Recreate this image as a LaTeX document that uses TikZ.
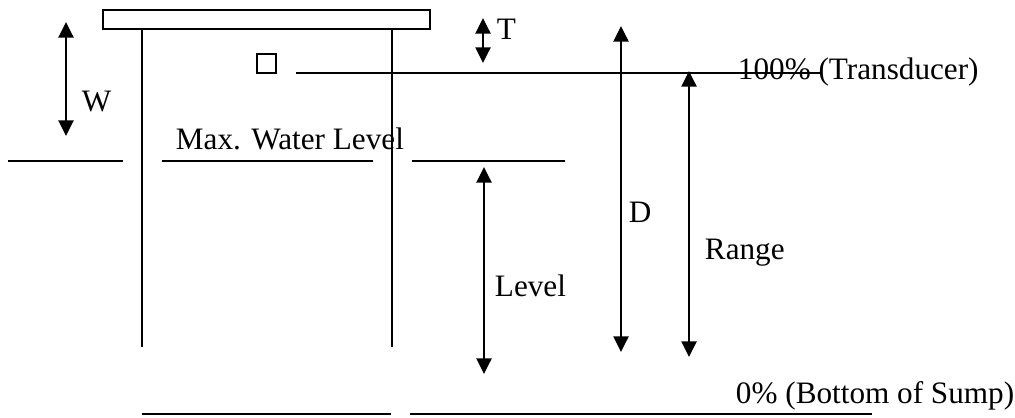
\documentclass[tikz,border=0pt]{standalone}
\usepackage{fontspec}
\setmainfont{Liberation Serif}
\usetikzlibrary{arrows.meta}

\begin{document}
\begin{tikzpicture}[x=0.3846pt,y=-0.3846pt,line width=0.75pt,>={Triangle[length=6pt,width=5.8pt]},
  lbl/.style={anchor=base west,inner sep=0pt,font=\fontsize{12}{14}\selectfont}]
\useasboundingbox (0,0) rectangle (1015,418);
% cover and pipe
\draw (103,10) rectangle (430,29);
\draw (142,29) -- (142,347);
\draw (392,29) -- (392,347);
\node (trans) [draw,line width=0.6pt,inner sep=0pt,minimum size=7.3pt] at (266.5,63.5) {};
% levels
\draw (296,73) -- (820,73);
\draw (8,161) -- (123,161);
\draw (162,161) -- (373,161);
\draw (412,161) -- (565,161);
\draw (142,414) -- (391,414);
\draw (410,414) -- (872,414);
% arrow ends
\coordinate (w1) at (66,22);
\coordinate (w2) at (66,136);
\coordinate (t1) at (483,18);
\coordinate (t2) at (483,63);
\coordinate (d1) at (621,26);
\coordinate (d2) at (621,352);
\coordinate (r1) at (689,71);
\coordinate (r2) at (689,357);
\coordinate (l1) at (484,167);
\coordinate (l2) at (484,374);
\draw[<->] (w1) -- (w2);
\draw[<->] (t1) -- (t2);
\draw[<->] (d1) -- (d2);
\draw[<->] (r1) -- (r2);
\draw[<->] (l1) -- (l2);
% labels
\node[lbl] (w) at (81,112) {W};
\node[lbl] (t) at (496,40) {T};
\node[lbl] (d) at (628,223) {D};
\node[lbl] (range) at (704,260) {Range};
\node[lbl] (level) at (494,297) {Level};
\node[lbl] (maxw) at (175,150) {Max. Water Level};
\node[lbl] (full) at (737,80) {100\% (Transducer)};
\node[lbl] (empty) at (735,403) {0\% (Bottom of Sump)};
\end{tikzpicture}
\end{document}
